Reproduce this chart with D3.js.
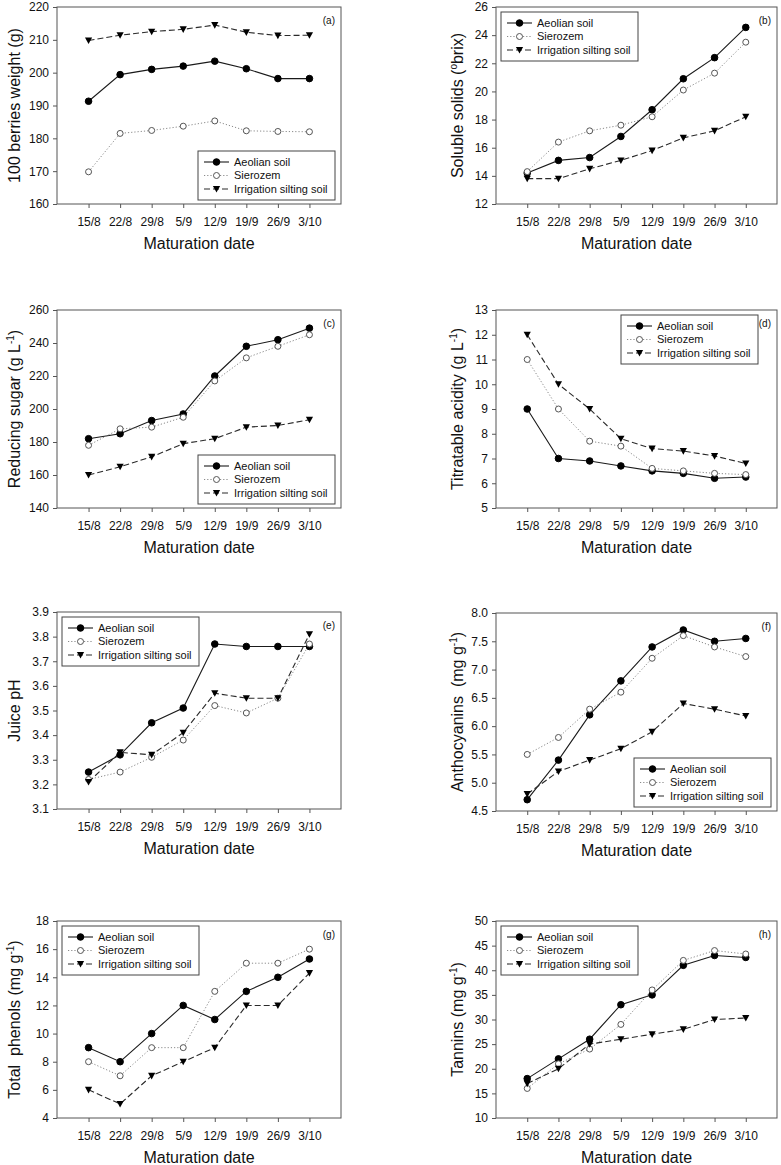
<!DOCTYPE html>
<html>
<head>
<meta charset="utf-8">
<script src="https://cdn.jsdelivr.net/npm/d3@7"></script>
<style>
  html, body { margin: 0; padding: 0; background: #fff; }
  svg { display: block; font-family: Arial, "Liberation Sans", Helvetica, sans-serif; }
  text { white-space: pre; }
</style>
</head>
<body>
<svg id="chart" width="781" height="1165"></svg>
<script>
// ---------- data ----------
const dates = ["15/8", "22/8", "29/8", "5/9", "12/9", "19/9", "26/9", "3/10"];
const seriesNames = ["Aeolian soil", "Sierozem", "Irrigation silting soil"];

// (a) 100 berries weight (g)
const weightAeolian    = [191.3, 199.4, 201.0, 202.0, 203.5, 201.2, 198.2, 198.2];
const weightSierozem   = [169.8, 181.5, 182.4, 183.7, 185.3, 182.3, 182.1, 182.0];
const weightIrrigation = [209.8, 211.4, 212.5, 213.2, 214.5, 212.3, 211.3, 211.4];
const weightTicks = [160, 170, 180, 190, 200, 210, 220];

// (b) soluble solids (°brix)
const solidsAeolian    = [14.2, 15.1, 15.3, 16.8, 18.7, 20.9, 22.4, 24.55];
const solidsSierozem   = [14.3, 16.4, 17.2, 17.6, 18.2, 20.1, 21.3, 23.5];
const solidsIrrigation = [13.8, 13.8, 14.5, 15.1, 15.8, 16.7, 17.2, 18.2];
const solidsTicks = [12, 14, 16, 18, 20, 22, 24, 26];

// (c) reducing sugar (g/L)
const sugarAeolian    = [182, 185, 193, 197, 220, 238, 242, 249];
const sugarSierozem   = [178, 188, 189, 195, 217, 231, 238, 245];
const sugarIrrigation = [160, 165, 171, 179, 182, 189, 190, 193.5];
const sugarTicks = [140, 160, 180, 200, 220, 240, 260];

// (d) titratable acidity (g/L)
const acidAeolian    = [9.0, 7.0, 6.9, 6.7, 6.5, 6.4, 6.2, 6.25];
const acidSierozem   = [11.0, 9.0, 7.7, 7.5, 6.6, 6.5, 6.4, 6.35];
const acidIrrigation = [12.0, 10.0, 9.0, 7.8, 7.4, 7.3, 7.1, 6.8];
const acidTicks = [5, 6, 7, 8, 9, 10, 11, 12, 13];

// (e) juice pH
const phAeolian    = [3.25, 3.32, 3.45, 3.51, 3.77, 3.76, 3.76, 3.76];
const phSierozem   = [3.22, 3.25, 3.31, 3.38, 3.52, 3.49, 3.55, 3.77];
const phIrrigation = [3.21, 3.33, 3.32, 3.41, 3.57, 3.55, 3.55, 3.81];
const phTicks = [3.1, 3.2, 3.3, 3.4, 3.5, 3.6, 3.7, 3.8, 3.9];

// (f) anthocyanins (mg/g)
const anthoAeolian    = [4.7, 5.4, 6.2, 6.8, 7.4, 7.7, 7.5, 7.55];
const anthoSierozem   = [5.5, 5.8, 6.3, 6.6, 7.2, 7.6, 7.4, 7.23];
const anthoIrrigation = [4.8, 5.2, 5.4, 5.6, 5.9, 6.4, 6.3, 6.18];
const anthoTicks = [4.5, 5.0, 5.5, 6.0, 6.5, 7.0, 7.5, 8.0];

// (g) total phenols (mg/g)
const phenolAeolian    = [9, 8, 10, 12, 11, 13, 14, 15.3];
const phenolSierozem   = [8, 7, 9, 9, 13, 15, 15, 16];
const phenolIrrigation = [6, 5, 7, 8, 9, 12, 12, 14.3];
const phenolTicks = [4, 6, 8, 10, 12, 14, 16, 18];

// (h) tannins (mg/g)
const tanninAeolian    = [18, 22, 26, 33, 35, 41, 43, 42.6];
const tanninSierozem   = [16, 21, 24, 29, 36, 42, 44, 43.3];
const tanninIrrigation = [17, 20, 25, 26, 27, 28, 30, 30.3];
const tanninTicks = [10, 15, 20, 25, 30, 35, 40, 45, 50];

// ---------- panel definitions ----------
const panels = [
  { tag: "(a)", title: [["100 berries weight (g)"]], series: [weightAeolian, weightSierozem, weightIrrigation], ticks: weightTicks, fmt: d3.format("d"),
    box: { l: 57, r: 341, t: 7, b: 204 }, legend: "br" },
  { tag: "(b)", title: [["Soluble solids ("], ["o", "sup"], ["brix)"]], series: [solidsAeolian, solidsSierozem, solidsIrrigation], ticks: solidsTicks, fmt: d3.format("d"),
    box: { l: 496, r: 777, t: 7, b: 204 }, legend: "tl" },
  { tag: "(c)", title: [["Reducing sugar (g L"], ["-1", "sup"], [")"]], series: [sugarAeolian, sugarSierozem, sugarIrrigation], ticks: sugarTicks, fmt: d3.format("d"),
    box: { l: 57, r: 341, t: 310, b: 508 }, legend: "br" },
  { tag: "(d)", title: [["Titratable acidity (g L"], ["-1", "sup"], [")"]], series: [acidAeolian, acidSierozem, acidIrrigation], ticks: acidTicks, fmt: d3.format("d"),
    box: { l: 496, r: 777, t: 310, b: 508 }, legend: "tr" },
  { tag: "(e)", title: [["Juice pH"]], series: [phAeolian, phSierozem, phIrrigation], ticks: phTicks, fmt: d3.format(".1f"),
    box: { l: 57, r: 341, t: 612, b: 809 }, legend: "tl" },
  { tag: "(f)", title: [["Anthocyanins  (mg g"], ["-1", "sup"], [")"]], series: [anthoAeolian, anthoSierozem, anthoIrrigation], ticks: anthoTicks, fmt: d3.format(".1f"),
    box: { l: 496, r: 777, t: 613, b: 811 }, legend: "br" },
  { tag: "(g)", title: [["Total  phenols (mg g"], ["-1", "sup"], [")"]], series: [phenolAeolian, phenolSierozem, phenolIrrigation], ticks: phenolTicks, fmt: d3.format("d"),
    box: { l: 57, r: 341, t: 921, b: 1118 }, legend: "tl" },
  { tag: "(h)", title: [["Tannins (mg g"], ["-1", "sup"], [")"]], series: [tanninAeolian, tanninSierozem, tanninIrrigation], ticks: tanninTicks, fmt: d3.format("d"),
    box: { l: 496, r: 777, t: 921, b: 1118 }, legend: "tl" }
];

const styles = [
  { stroke: "#1a1a1a", dash: null, width: 1.1, marker: "circle", fill: "#000" },
  { stroke: "#8a8a8a", dash: "1.2,2", width: 1, marker: "circle", fill: "#fff" },
  { stroke: "#2a2a2a", dash: "6,3", width: 1.1, marker: "tri", fill: "#000" }
];

const svg = d3.select("#chart");
const triPath = "M-3.6,-3 L3.6,-3 L0,3.6 Z";

function drawMarker(g, st, x, y) {
  if (st.marker === "circle") {
    g.append("circle").attr("cx", x).attr("cy", y).attr("r", st.fill === "#000" ? 3.3 : 3)
      .attr("fill", st.fill).attr("stroke", st.fill === "#000" ? "#000" : "#555").attr("stroke-width", 1);
  } else {
    g.append("path").attr("d", triPath).attr("transform", `translate(${x},${y})`).attr("fill", "#000");
  }
}

panels.forEach(p => {
  const b = p.box;
  const g = svg.append("g");
  const x = d3.scalePoint().domain(dates).range([b.l, b.r]).padding(1);
  const y = d3.scaleLinear().domain(d3.extent(p.ticks)).range([b.b, b.t]);

  // frame
  g.append("rect").attr("x", b.l).attr("y", b.t).attr("width", b.r - b.l).attr("height", b.b - b.t)
    .attr("fill", "none").attr("stroke", "#555").attr("stroke-width", 1);

  // axes
  const xa = g.append("g").attr("transform", `translate(0,${b.b})`)
    .call(d3.axisBottom(x).tickSize(4).tickSizeOuter(0).tickPadding(9));
  const ya = g.append("g").attr("transform", `translate(${b.l},0)`)
    .call(d3.axisLeft(y).tickValues(p.ticks).tickFormat(p.fmt).tickSize(4).tickSizeOuter(0).tickPadding(4));
  [xa, ya].forEach(a => {
    a.select(".domain").remove();
    a.selectAll("line").attr("stroke", "#555");
    a.selectAll("text").attr("fill", "#111").attr("font-size", 12).attr("font-family", "Arial, 'Liberation Sans', sans-serif");
  });

  // x title
  g.append("text").attr("x", (b.l + b.r) / 2).attr("y", b.b + 44.5).attr("text-anchor", "middle")
    .attr("font-size", 16).attr("fill", "#111").text("Maturation date");

  // y title
  const tx = b.l < 100 ? 14 : 457;
  const yt = g.append("text").attr("transform", `translate(${tx},${(b.t + b.b) / 2}) rotate(-90)`)
    .attr("text-anchor", "middle").attr("dy", "0.35em").attr("font-size", 16).attr("fill", "#111");
  p.title.forEach(part => {
    const ts = yt.append("tspan").text(part[0]);
    if (part[1] === "sup") ts.attr("font-size", 10).attr("baseline-shift", "6");
  });

  // panel tag
  g.append("text").attr("x", b.r - 6).attr("y", b.t + 17).attr("text-anchor", "end")
    .attr("font-size", 10).attr("fill", "#111").text(p.tag);

  // series lines + markers
  p.series.forEach((vals, i) => {
    const st = styles[i];
    const line = d3.line().x((d, k) => x(dates[k])).y(d => y(d));
    g.append("path").datum(vals).attr("d", line).attr("fill", "none")
      .attr("stroke", st.stroke).attr("stroke-width", st.width)
      .attr("stroke-dasharray", st.dash);
  });
  p.series.forEach((vals, i) => {
    const st = styles[i];
    vals.forEach((v, k) => drawMarker(g, st, x(dates[k]), y(v)));
  });

  // legend
  const lw = 137, lh = 49;
  let lx, ly;
  if (p.legend === "br") { lx = b.r - 6 - lw; ly = b.b - 4 - lh; }
  else if (p.legend === "tl") { lx = b.l + 5; ly = b.t + 5; }
  else { lx = b.r - 19 - lw; ly = b.t + 5; }
  const lg = g.append("g").attr("transform", `translate(${lx},${ly})`);
  lg.append("rect").attr("width", lw).attr("height", lh).attr("fill", "#fff")
    .attr("stroke", "#444").attr("stroke-width", 1);
  seriesNames.forEach((name, i) => {
    const st = styles[i];
    const ry = 11 + i * 13.5;
    lg.append("line").attr("x1", 6).attr("x2", 31).attr("y1", ry).attr("y2", ry)
      .attr("stroke", st.stroke).attr("stroke-width", st.width).attr("stroke-dasharray", st.dash);
    drawMarker(lg, st, 18.5, ry);
    lg.append("text").attr("x", 36).attr("y", ry).attr("dy", "0.35em")
      .attr("font-size", 11).attr("fill", "#111").text(name);
  });
});
</script>
</body>
</html>
